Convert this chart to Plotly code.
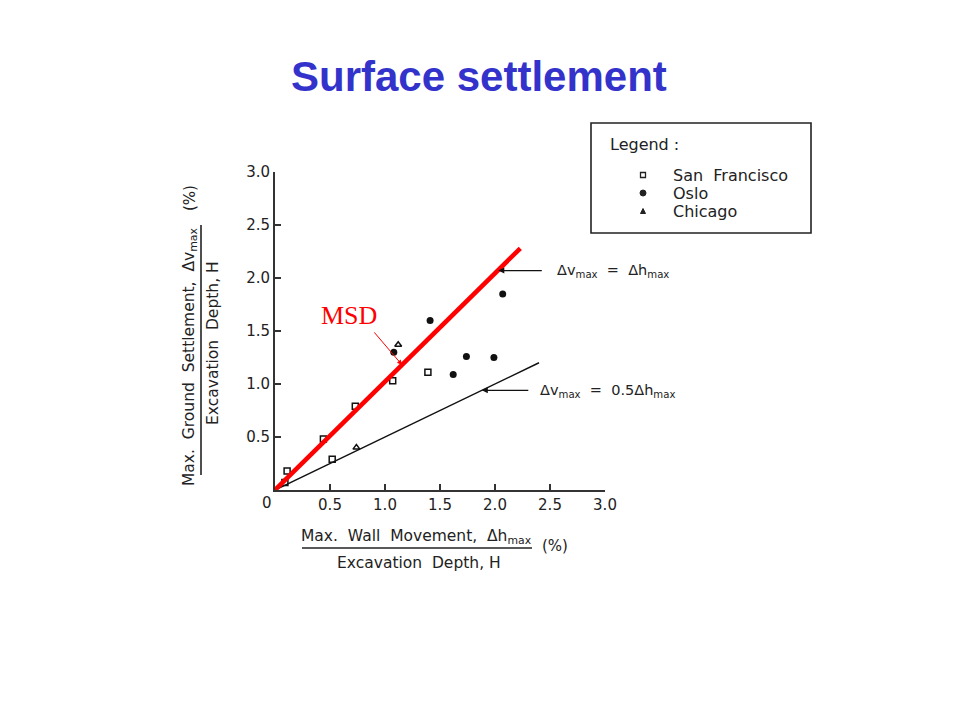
import plotly.graph_objects as go

# ---- data ----
sf_x = [0.11, 0.09, 0.44, 0.52, 0.73, 1.07, 1.39]
sf_y = [0.18, 0.07, 0.48, 0.29, 0.79, 1.03, 1.11]
oslo_x = [1.08, 1.41, 1.62, 1.74, 1.99, 2.07]
oslo_y = [1.30, 1.60, 1.09, 1.26, 1.25, 1.85]
chi_x = [1.12, 0.74]
chi_y = [1.37, 0.40]
eq_x = [0, 2.2]
eq_y = [0, 2.25]
half_x = [0, 2.4]
half_y = [0, 1.2]
msd_x = [0, 2.23]
msd_y = [0, 2.28]
x_ticks = [0.5, 1.0, 1.5, 2.0, 2.5, 3.0]
y_ticks = [0.5, 1.0, 1.5, 2.0, 2.5, 3.0]

# plot-area geometry in page pixels (page has an 8px body margin)
OFF = 8
L, R, T, B = 275, 605, 172, 490
def px(x):
    return (x - L) / (R - L)
def py(y):
    return (B - y) / (B - T)

FONT = "DejaVu Sans"
INK = "#222222"

fig = go.Figure()
fig.add_trace(go.Scatter(x=eq_x, y=eq_y, mode="lines", line=dict(color="#111", width=1.5), showlegend=False))
fig.add_trace(go.Scatter(x=half_x, y=half_y, mode="lines", line=dict(color="#111", width=1.5), showlegend=False))
fig.add_trace(go.Scatter(x=sf_x, y=sf_y, mode="markers", name="San Francisco",
                         marker=dict(symbol="square-open", size=6, color="#111", line=dict(width=1.5)), showlegend=False))
fig.add_trace(go.Scatter(x=oslo_x, y=oslo_y, mode="markers", name="Oslo",
                         marker=dict(symbol="circle", size=7, color="#111"), showlegend=False))
fig.add_trace(go.Scatter(x=chi_x, y=chi_y, mode="markers", name="Chicago",
                         marker=dict(symbol="triangle-up-open", size=6, color="#111", line=dict(width=1.5)), showlegend=False))
fig.add_trace(go.Scatter(x=msd_x, y=msd_y, mode="lines", line=dict(color="#ff0000", width=4.5), showlegend=False))

ann = []
# title
ann.append(dict(xref="paper", yref="paper", x=px(479), y=py(77), text="<b>Surface settlement</b>", showarrow=False,
                font=dict(family="Liberation Sans", size=42, color="#3333cc"), xanchor="center", yanchor="middle"))
# origin label
ann.append(dict(xref="paper", yref="paper", x=px(267), y=py(503), text="0", showarrow=False,
                font=dict(family=FONT, size=15, color=INK), xanchor="center", yanchor="middle"))
# line labels and arrows
ann.append(dict(x=2.03, y=2.07, ax=45, ay=0, text="", showarrow=True, arrowhead=2, arrowsize=1, arrowwidth=1.2, arrowcolor="#111"))
ann.append(dict(xref="paper", yref="paper", x=px(555), y=py(271), text="Δv<sub>max</sub>  =  Δh<sub>max</sub>", showarrow=False,
                font=dict(family=FONT, size=14.5, color=INK), xanchor="left", yanchor="middle"))
ann.append(dict(x=1.88, y=0.94, ax=48, ay=0, text="", showarrow=True, arrowhead=2, arrowsize=1, arrowwidth=1.2, arrowcolor="#111"))
ann.append(dict(xref="paper", yref="paper", x=px(538), y=py(391), text="Δv<sub>max</sub>  =  0.5Δh<sub>max</sub>", showarrow=False,
                font=dict(family=FONT, size=14.5, color=INK), xanchor="left", yanchor="middle"))
# MSD label + arrow
ann.append(dict(x=1.155, y=1.18, ax=-29, ay=-34, text="", showarrow=True, arrowhead=2, arrowsize=1, arrowwidth=1, arrowcolor="#ff0000"))
ann.append(dict(xref="paper", yref="paper", x=px(349), y=py(315), text="MSD", showarrow=False,
                font=dict(family="Liberation Serif", size=26, color="#ff0000"), xanchor="center", yanchor="middle"))
# x axis title (fraction)
ann.append(dict(xref="paper", yref="paper", x=px(416), y=py(537), text="Max.  Wall  Movement,  Δh<sub>max</sub>", showarrow=False,
                font=dict(family=FONT, size=15.5, color=INK), xanchor="center", yanchor="middle"))
ann.append(dict(xref="paper", yref="paper", x=px(419), y=py(563), text="Excavation  Depth, H", showarrow=False,
                font=dict(family=FONT, size=15.5, color=INK), xanchor="center", yanchor="middle"))
ann.append(dict(xref="paper", yref="paper", x=px(555), y=py(546), text="(%)", showarrow=False,
                font=dict(family=FONT, size=15, color=INK), xanchor="center", yanchor="middle"))
# y axis title (fraction), rotated
ann.append(dict(xref="paper", yref="paper", x=px(190), y=py(357), text="Max.  Ground  Settlement,  Δv<sub>max</sub>", showarrow=False,
                textangle=-90, font=dict(family=FONT, size=15.5, color=INK), xanchor="center", yanchor="middle"))
ann.append(dict(xref="paper", yref="paper", x=px(213), y=py(343), text="Excavation  Depth, H", showarrow=False,
                textangle=-90, font=dict(family=FONT, size=15.5, color=INK), xanchor="center", yanchor="middle"))
ann.append(dict(xref="paper", yref="paper", x=px(190), y=py(198), text="(%)", showarrow=False,
                textangle=-90, font=dict(family=FONT, size=15, color=INK), xanchor="center", yanchor="middle"))
# legend texts
ann.append(dict(xref="paper", yref="paper", x=px(608), y=py(145), text="Legend :", showarrow=False,
                font=dict(family=FONT, size=16, color=INK), xanchor="left", yanchor="middle"))
for name, yy in [("San  Francisco", 175), ("Oslo", 193), ("Chicago", 211)]:
    ann.append(dict(xref="paper", yref="paper", x=px(671), y=py(yy), text=name, showarrow=False,
                    font=dict(family=FONT, size=16, color=INK), xanchor="left", yanchor="middle"))

shapes = []
# fraction bars
shapes.append(dict(type="line", xref="paper", yref="paper", x0=px(302), x1=px(532), y0=py(548), y1=py(548),
                   line=dict(color=INK, width=1.6)))
shapes.append(dict(type="line", xref="paper", yref="paper", x0=px(201), x1=px(201), y0=py(225), y1=py(475),
                   line=dict(color=INK, width=1.6)))
# legend box
shapes.append(dict(type="rect", xref="paper", yref="paper", x0=px(591), x1=px(811), y0=py(233), y1=py(123),
                   line=dict(color=INK, width=1.6), fillcolor="rgba(0,0,0,0)"))
# legend symbols
shapes.append(dict(type="rect", xref="paper", yref="paper", x0=px(640.5), x1=px(645.5), y0=py(177.5), y1=py(172.5),
                   line=dict(color=INK, width=1.3)))
shapes.append(dict(type="circle", xref="paper", yref="paper", x0=px(640), x1=px(646), y0=py(196), y1=py(190),
                   line=dict(color=INK, width=1), fillcolor=INK))
shapes.append(dict(type="path", xref="paper", yref="paper",
                   path=f"M {px(640.5)} {py(213.5)} L {px(645.5)} {py(213.5)} L {px(643)} {py(208.5)} Z",
                   line=dict(color=INK, width=1), fillcolor=INK))

axis_common = dict(range=[0, 3], showgrid=False, zeroline=False, showline=True, linecolor="#333", linewidth=2,
                   ticks="inside", ticklen=6, tickwidth=1.6, tickcolor="#333",
                   tickfont=dict(family=FONT, size=15, color=INK), fixedrange=True)
fig.update_layout(
    width=960, height=720,
    margin=dict(l=L - OFF, r=960 - (R - OFF), t=T - OFF, b=720 - (B - OFF)),
    paper_bgcolor="white", plot_bgcolor="white",
    xaxis=dict(**axis_common, tickvals=x_ticks, ticktext=[f"{v:.1f}" for v in x_ticks]),
    yaxis=dict(**axis_common, tickvals=y_ticks, ticktext=[f"{v:.1f}" for v in y_ticks], ticklabelstandoff=0),
    annotations=ann, shapes=shapes, showlegend=False,
)
fig.write_html("out.html")
